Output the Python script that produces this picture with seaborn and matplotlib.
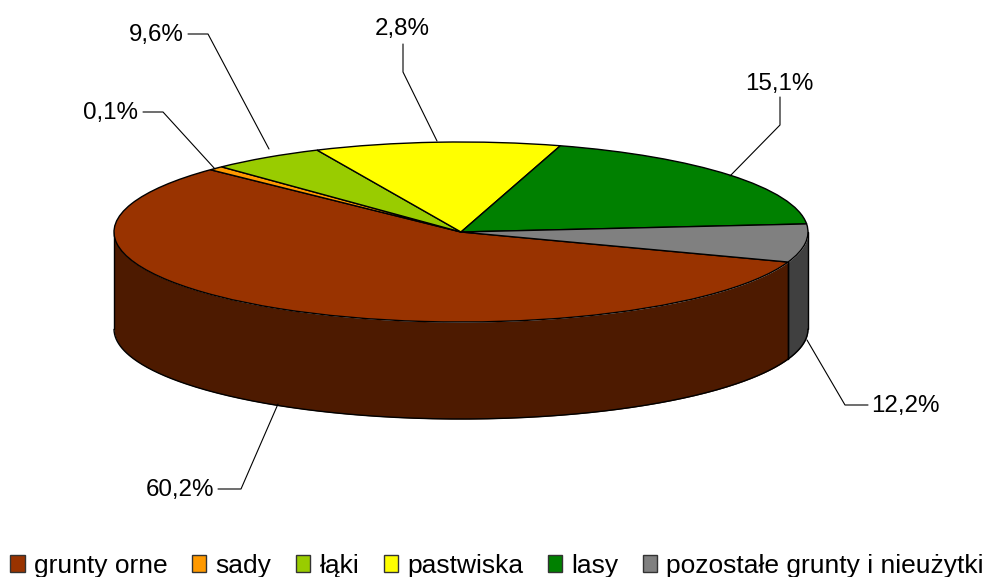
import numpy as np
import pandas as pd
import seaborn as sns
import matplotlib
matplotlib.use("Agg")
import matplotlib.pyplot as plt
from matplotlib.patches import Patch
from matplotlib.transforms import Affine2D

# Data
categories = ["grunty orne", "sady", "łąki", "pastwiska", "lasy", "pozostałe grunty i nieużytki"]
value_labels = ["60,2%", "0,1%", "9,6%", "2,8%", "15,1%", "12,2%"]
# visible share of each slice, as drawn in the picture (percent of the full turn)
drawn_shares = [56.6, 0.72, 5.3, 11.4, 18.9, 6.83]
top_colors = ["#993300", "#FF9900", "#99CC00", "#FFFF00", "#008000", "#808080"]
side_colors = ["#4D1A00", "#804D00", "#4D6600", "#808000", "#004000", "#404040"]

sns.set_theme(style="white")
plt.rcParams["font.family"] = ["Liberation Sans", "DejaVu Sans"]

W, H = 984, 577
CX, CY, RX, RY, DEPTH = 461, 232, 347, 90, 97

df = pd.DataFrame({"category": categories, "share": drawn_shares, "label": value_labels})
palette = sns.color_palette(top_colors)

fig = plt.figure(figsize=(W / 100, H / 100), dpi=100, facecolor="white")
ax = fig.add_axes([0, 0, 1, 1])

wedges, _ = ax.pie(df["share"], colors=palette, startangle=-19.5, counterclock=False,
                   wedgeprops=dict(edgecolor="black", linewidth=1.0, zorder=3))
ax.set_aspect("auto")
ax.set_xlim((0 - CX) / RX, (W - CX) / RX)
ax.set_ylim((CY - H) / RY, (CY - 0) / RY)
ax.axis("off")

# side wall of the disc, following the slice angles
d = DEPTH / RY
for w, col in zip(wedges, side_colors):
    t = np.radians(np.linspace(w.theta1, w.theta2, 400))
    t = t[np.sin(t) <= 0]
    if t.size < 2:
        continue
    x, y = np.cos(t), np.sin(t)
    ax.fill_between(x, y - d, y, color=col, lw=0, zorder=1)
    ax.plot(x, y - d, color="black", lw=1.0, zorder=2)
    ax.plot([x[0], x[0]], [y[0], y[0] - d], color="black", lw=1.0, zorder=2)
    ax.plot([x[-1], x[-1]], [y[-1], y[-1] - d], color="black", lw=1.0, zorder=2)

# value labels with leader lines, in picture pixels
px = Affine2D().scale(1, -1).translate(0, H)
anchors = {
    "60,2%": ((214, 490), "right", [(218, 489), (241, 489), (278, 404)]),
    "0,1%": ((138, 113), "right", [(143, 112), (163, 112), (215, 169)]),
    "9,6%": ((184, 35), "right", [(188, 34), (208, 34), (269, 149)]),
    "2,8%": ((402, 29), "center", [(403, 44), (403, 72), (437, 141)]),
    "15,1%": ((779, 84), "center", [(780, 97), (780, 125), (730, 176)]),
    "12,2%": ((871, 406), "left", [(868, 405), (845, 405), (807, 340)]),
}
for lab in df["label"]:
    pos, ha, pts = anchors[lab]
    ax.text(pos[0], pos[1], lab, transform=px, ha=ha, va="center", fontsize=17.4,
            color="black", zorder=6)
    xs, ys = zip(*pts)
    ax.plot(xs, ys, transform=px, color="black", lw=0.8, zorder=5, clip_on=False)

handles = [Patch(facecolor=c, edgecolor="#333333", linewidth=1.0) for c in top_colors]
ax.legend(handles, df["category"], loc="lower left", bbox_to_anchor=(5 / W, -6 / H),
          bbox_transform=fig.transFigure, ncol=6, frameon=False, fontsize=19,
          labelcolor="black", handlelength=0.54, handleheight=0.58, handletextpad=0.35,
          columnspacing=0.93, borderpad=0.2, borderaxespad=0)

fig.savefig("out.png", dpi=100)
